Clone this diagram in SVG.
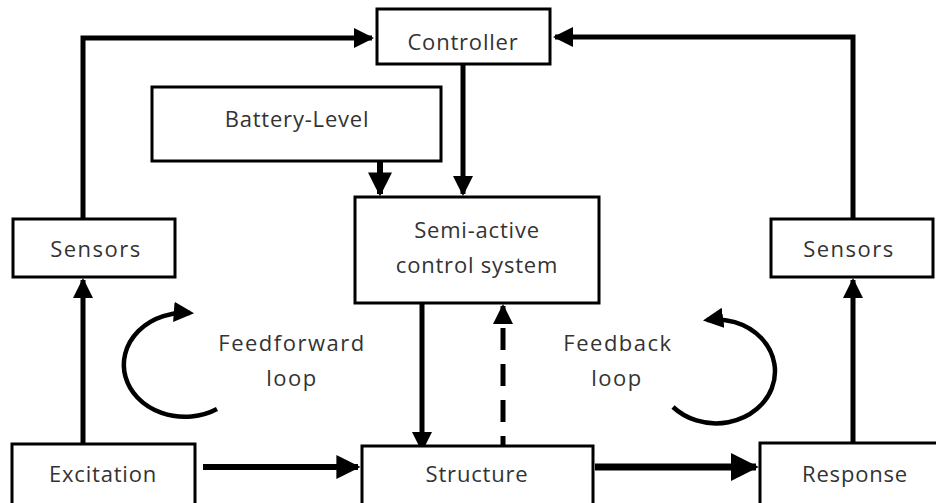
<svg xmlns="http://www.w3.org/2000/svg" width="936" height="503" viewBox="0 0 936 503">
<style>
.box{fill:#fff;stroke:#000;stroke-width:3}
.t{font-family:"Open Sans","Liberation Sans",sans-serif;font-size:22px;fill:#333;text-anchor:middle;letter-spacing:0.8px}
.w{letter-spacing:1.5px}
.c{fill:none;stroke:#000;stroke-width:5}
</style>
<defs>
<marker id="ah" viewBox="0 0 10 10" refX="9" refY="5" markerWidth="4" markerHeight="4" orient="auto" markerUnits="strokeWidth">
<path d="M0,0 L10,5 L0,10 z" fill="#000"/>
</marker>
<marker id="ah2" viewBox="0 0 10 10" refX="8" refY="5" markerWidth="4.5" markerHeight="4.5" orient="auto" markerUnits="strokeWidth">
<path d="M0,0 L10,5 L0,10 z" fill="#000"/>
</marker>
</defs>
<rect width="936" height="503" fill="#fff"/>
<g id="connectors">
<path class="c" d="M83,232 V38 H372" marker-end="url(#ah)"/>
<path class="c" d="M853,232 V37 H555" marker-end="url(#ah)"/>
<path class="c" d="M463,65 V194" marker-end="url(#ah)"/>
<path class="c" d="M380,161 V194" marker-end="url(#ah)" style="stroke-width:6"/>
<path class="c" d="M422,293 V450" marker-end="url(#ah)"/>
<path class="c" d="M503,458 V306" stroke-dasharray="22,14" marker-end="url(#ah)"/>
<path class="c" d="M83,444 V280" marker-end="url(#ah)"/>
<path class="c" d="M853,443 V280" marker-end="url(#ah)"/>
<path class="c" d="M203,467 H358" marker-end="url(#ah)" style="stroke-width:6"/>
<path class="c" d="M595,467 H756" marker-end="url(#ah)" style="stroke-width:7"/>
<path class="c" d="M217,409 A61,52 0 1 1 190,313" style="stroke-width:4.5" marker-end="url(#ah2)"/>
<path class="c" d="M673,407 A59,52 0 1 0 707,320" style="stroke-width:4.5" marker-end="url(#ah2)"/>
</g>
<g id="controller"><rect class="box" x="377" y="9" width="173" height="55"/><text class="t" x="463" y="50">Controller</text></g>
<g id="battery"><rect class="box" x="152" y="87" width="289" height="74"/><text class="t" x="297" y="127">Battery-Level</text></g>
<g id="semiactive"><rect class="box" x="355" y="197" width="244" height="106"/><text class="t" x="477" y="238">Semi-active</text><text class="t" x="477" y="273">control system</text></g>
<g id="sensors-left"><rect class="box" x="13" y="219" width="162" height="58"/><text class="t w" x="96" y="257">Sensors</text></g>
<g id="sensors-right"><rect class="box" x="771" y="219" width="162" height="58"/><text class="t w" x="849" y="257">Sensors</text></g>
<g id="excitation"><rect class="box" x="12" y="444" width="183" height="62"/><text class="t" x="103" y="482">Excitation</text></g>
<g id="structure"><rect class="box" x="362" y="446" width="231" height="60"/><text class="t" x="477" y="482">Structure</text></g>
<g id="response"><rect class="box" x="760" y="443" width="180" height="63"/><text class="t" x="855" y="482">Response</text></g>
<g id="feedforward-label"><text class="t w" x="292" y="351">Feedforward</text><text class="t w" x="292" y="386">loop</text></g>
<g id="feedback-label"><text class="t w" x="618" y="351">Feedback</text><text class="t w" x="617" y="386">loop</text></g>
</svg>
